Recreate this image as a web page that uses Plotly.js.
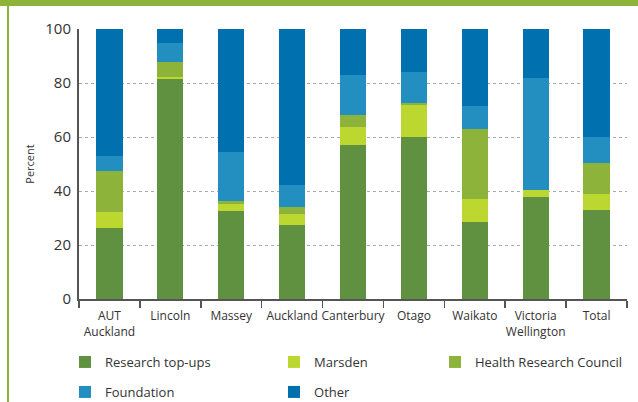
<!DOCTYPE html>
<html>
<head>
<meta charset="utf-8">
<script src="https://cdn.plot.ly/plotly-3.0.1.min.js"></script>
<style>
html,body{margin:0;padding:0;background:#fff;}
#chart{width:638px;height:402px;}
</style>
</head>
<body>
<div id="chart"></div>
<script>
const categories = ["AUT<br>Auckland","Lincoln","Massey","Auckland","Canterbury","Otago","Waikato","Victoria<br>Wellington","Total"];
const researchTopUps = [26.4, 81.6, 32.7, 27.5, 57.1, 60.1, 28.6, 37.9, 33.1];
const marsden        = [5.9, 0.7, 2.5, 4.1, 6.7, 11.9, 8.5, 2.6, 5.9];
const healthResearch = [15.0, 5.3, 1.2, 2.6, 4.5, 0.7, 26.0, 0.0, 11.5];
const foundation     = [5.5, 7.1, 18.2, 8.1, 14.8, 11.5, 8.5, 41.4, 9.6];
const other          = [47.2, 5.3, 45.4, 57.7, 16.9, 15.8, 28.4, 18.1, 39.9];

const seriesNames  = ["Research top-ups","Marsden","Health Research Council","Foundation","Other"];
const seriesValues = [researchTopUps, marsden, healthResearch, foundation, other];
const seriesColors = ["#5f9141","#bdd731","#8db33a","#238fc1","#0070ae"];
const legendIds    = ["legend","legend2","legend3","legend4","legend5"];

const traces = seriesNames.map((n,i)=>({
  type:"bar", name:n, x:categories, y:seriesValues[i],
  marker:{color:seriesColors[i], line:{width:0}},
  legend:legendIds[i],
  hoverinfo:"name+y"
}));

const font = "Open Sans, Noto Sans, sans-serif";
const legFont = {family:font, size:13, color:"#333"};
function leg(x, y){
  return {x:x, xref:"container", xanchor:"left", y:y, yref:"container", yanchor:"middle",
          orientation:"h", font:legFont, bgcolor:"rgba(0,0,0,0)", borderwidth:0, itemclick:false};
}
const col = [0.1019, 0.4295, 0.6818];
const row = [0.0995, 0.0249];

const layout = {
  width:638, height:402,
  margin:{l:79, r:11, t:29, b:103, autoexpand:false},
  barmode:"stack",
  bargap:0.57,
  paper_bgcolor:"#fff", plot_bgcolor:"#fff",
  font:{family:font, color:"#333", size:12},
  showlegend:true,
  legend:leg(col[0], row[0]),
  legend2:leg(col[1], row[0]),
  legend3:leg(col[2], row[0]),
  legend4:leg(col[0], row[1]),
  legend5:leg(col[1], row[1]),
  xaxis:{
    showline:true, linecolor:"#555", linewidth:2,
    ticks:"outside", tickson:"boundaries", ticklen:7, tickcolor:"#555", tickwidth:1.5,
    tickangle:0, automargin:false, ticklabelstandoff:5,
    tickfont:{family:font, size:12, color:"#333"},
    showgrid:false, zeroline:false, fixedrange:true
  },
  yaxis:{
    range:[0,100], tickvals:[0,20,40,60,80,100], ticks:"",
    showline:true, linecolor:"#555", linewidth:2, automargin:false,
    showgrid:true, gridcolor:"#aaa", gridwidth:1, griddash:"3px,3px",
    zeroline:false, tickfont:{family:font, size:15, color:"#333"},
    ticklabelstandoff:3,
    title:{text:"Percent", font:{family:font, size:11, color:"#333"}, standoff:8},
    fixedrange:true
  },
  shapes:[
    {type:"rect", xref:"paper", yref:"paper", x0:-0.2, x1:1.1, y0:1.085, y1:1.2, fillcolor:"#8db33a", line:{width:0}, layer:"above"},
    {type:"rect", xref:"paper", yref:"paper", x0:-0.1314, x1:-0.1277, y0:-0.5, y1:1.2, fillcolor:"#8db33a", line:{width:0}, layer:"above"}
  ]
};

Plotly.newPlot("chart", traces, layout, {displayModeBar:false, staticPlot:true});
</script>
</body>
</html>
